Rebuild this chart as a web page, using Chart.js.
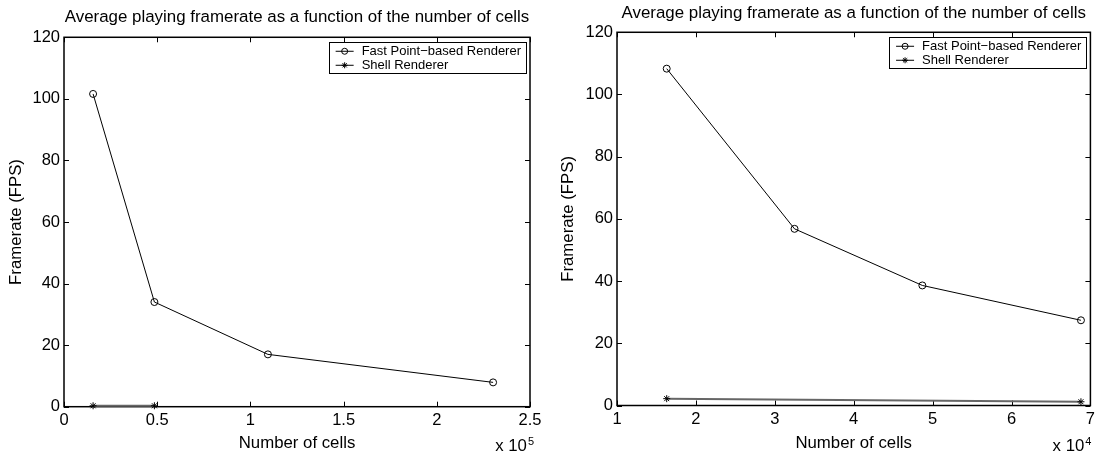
<!DOCTYPE html>
<html>
<head>
<meta charset="utf-8">
<title>Average playing framerate</title>
<script src="https://cdn.jsdelivr.net/npm/chart.js@4/dist/chart.umd.min.js"></script>
<style>
    body { margin: 0; background: #fff; }
    #wrap { position: relative; width: 1099px; height: 457px; }
    .panel { position: absolute; top: 0; height: 457px; }
    #left { left: 0; width: 550px; }
    #right { left: 550px; width: 549px; }
</style>
</head>
<body>
<div id="wrap">
    <div class="panel" id="left"><canvas id="chartLeft"></canvas></div>
    <div class="panel" id="right"><canvas id="chartRight"></canvas></div>
</div>
<script>
const titleText = 'Average playing framerate as a function of the number of cells';
const xTitle = 'Number of cells';
const yTitle = 'Framerate (FPS)';
const seriesNames = ['Fast Point\u2212based Renderer', 'Shell Renderer'];

// left panel, x axis in units of 10^5 cells
const leftFastCells = [15600, 48500, 109400, 230200];
const leftFastFps = [101.6, 34.0, 17.0, 7.9];
const leftShellCells = [15600, 48500];
const leftShellFps = [0.3, 0.3];
const leftXTicks = [0, 0.5, 1, 1.5, 2, 2.5];

// right panel, x axis in units of 10^4 cells
const rightFastCells = [16300, 32500, 48700, 68800];
const rightFastFps = [108.3, 56.8, 38.6, 27.4];
const rightShellCells = [16300, 68800];
const rightShellFps = [2.2, 1.2];
const rightXTicks = [1, 2, 3, 4, 5, 6, 7];

const yTicks = [0, 20, 40, 60, 80, 100, 120];

const family = '"Liberation Sans", Arial, Helvetica, sans-serif';

function drawMarker(ctx, style, x, y, r) {
    ctx.beginPath();
    if (style === 'circle') {
        ctx.arc(x, y, r, 0, Math.PI * 2);
    } else {
        for (let k = 0; k < 4; k++) {
            const ang = k * Math.PI / 4;
            ctx.moveTo(x - r * Math.cos(ang), y - r * Math.sin(ang));
            ctx.lineTo(x + r * Math.cos(ang), y + r * Math.sin(ang));
        }
    }
    ctx.stroke();
}

// axes box with inward tick marks on all four sides
const boxPlugin = {
    id: 'matlabBox',
    beforeDatasetsDraw(chart) {
        const { ctx, chartArea: a, scales } = chart;
        ctx.save();
        ctx.strokeStyle = '#000';
        ctx.lineWidth = 1;
        ctx.beginPath();
        scales.x.ticks.forEach(t => {
            const px = Math.round(scales.x.getPixelForValue(t.value)) + 0.5;
            ctx.moveTo(px, a.bottom); ctx.lineTo(px, a.bottom - 5);
            ctx.moveTo(px, a.top); ctx.lineTo(px, a.top + 5);
        });
        scales.y.ticks.forEach(t => {
            const py = Math.round(scales.y.getPixelForValue(t.value)) + 0.5;
            ctx.moveTo(a.left, py); ctx.lineTo(a.left + 5, py);
            ctx.moveTo(a.right, py); ctx.lineTo(a.right - 5, py);
        });
        ctx.stroke();
        ctx.lineWidth = 1.5;
        ctx.strokeRect(a.left, a.top, a.right - a.left, a.bottom - a.top);
        ctx.restore();
    }
};

// legend box inside the top right corner
const legendPlugin = {
    id: 'boxLegend',
    afterDatasetsDraw(chart) {
        const { ctx, chartArea: a } = chart;
        const sets = chart.data.datasets;
        ctx.save();
        ctx.font = '13px ' + family;
        const textW = Math.max(...sets.map(d => ctx.measureText(d.label).width));
        const w = 33 + textW + 5;
        const h = 31;
        const left = a.right - 4 - w;
        const top = a.top + 5;
        ctx.fillStyle = '#fff';
        ctx.fillRect(left, top, w, h);
        ctx.strokeStyle = '#000';
        ctx.lineWidth = 1;
        ctx.strokeRect(Math.round(left) + 0.5, Math.round(top) + 0.5, Math.round(w), h);
        sets.forEach((d, i) => {
            const y = top + 9 + i * 14;
            ctx.strokeStyle = '#000';
            ctx.lineWidth = 1;
            ctx.beginPath();
            ctx.moveTo(left + 7, y);
            ctx.lineTo(left + 25, y);
            ctx.stroke();
            drawMarker(ctx, d.pointStyle, left + 16, y, 3);
            ctx.fillStyle = '#000';
            ctx.textBaseline = 'middle';
            ctx.textAlign = 'left';
            ctx.fillText(d.label, left + 33, y + 0.5);
        });
        ctx.restore();
    }
};

// "x 10^n" multiplier under the right end of the x axis
const expPlugin = {
    id: 'expLabel',
    afterDraw(chart, args, opts) {
        const { ctx, chartArea: a } = chart;
        ctx.save();
        ctx.fillStyle = '#000';
        ctx.textBaseline = 'alphabetic';
        ctx.textAlign = 'left';
        ctx.font = '16.8px ' + family;
        const base = 'x 10';
        const w1 = ctx.measureText(base).width;
        ctx.font = '11px ' + family;
        const sup = String(opts.exp);
        const w2 = ctx.measureText(sup).width;
        const x0 = a.right + opts.shift - w1 - w2;
        ctx.font = '16.8px ' + family;
        ctx.fillText(base, x0, 451);
        ctx.font = '11px ' + family;
        ctx.fillText(sup, x0 + w1 + 1, 445);
        ctx.restore();
    }
};

function makeDatasets(fastX, fastY, shellX, shellY) {
    return [
        {
            label: seriesNames[0],
            data: fastX.map((x, i) => ({ x: x, y: fastY[i] })),
            borderColor: '#000',
            borderWidth: 1,
            pointStyle: 'circle',
            pointRadius: 3.5,
            pointBorderColor: '#000',
            pointBackgroundColor: 'rgba(0,0,0,0)',
            pointBorderWidth: 1,
            showLine: true,
            clip: false
        },
        {
            label: seriesNames[1],
            data: shellX.map((x, i) => ({ x: x, y: shellY[i] })),
            borderColor: '#666',
            borderWidth: 2,
            pointStyle: 'star',
            pointRadius: 3.5,
            pointBorderColor: '#000',
            pointBackgroundColor: '#000',
            pointBorderWidth: 1,
            showLine: true,
            clip: false
        }
    ];
}

function makeOptions(cfg) {
    const font = { family: family, size: 16.5 };
    const axisFont = { family: family, size: 16.8 };
    return {
        responsive: true,
        maintainAspectRatio: false,
        animation: false,
        layout: { padding: { left: 0, right: cfg.rightPad, top: 0, bottom: 0 } },
        plugins: {
            legend: { display: false },
            tooltip: { enabled: false },
            title: {
                display: true,
                text: titleText,
                color: '#000',
                fullSize: false,
                font: { family: family, size: 16.9, weight: 'normal' },
                padding: cfg.titlePad
            },
            expLabel: { exp: cfg.exp, shift: cfg.expShift }
        },
        scales: {
            x: {
                type: 'linear',
                min: cfg.xTicks[0] * cfg.unit,
                max: cfg.xTicks[cfg.xTicks.length - 1] * cfg.unit,
                grid: { display: false, drawTicks: false },
                border: { display: false },
                afterBuildTicks: s => { s.ticks = cfg.xTicks.map(v => ({ value: v * cfg.unit })); },
                ticks: {
                    color: '#000', font: font, padding: 4, maxRotation: 0, autoSkip: false,
                    callback: v => String(+(v / cfg.unit).toFixed(3))
                },
                title: { display: true, text: xTitle, color: '#000', font: axisFont, padding: { top: 0, bottom: 4 } },
                afterFit: s => { s.height = cfg.xHeight; }
            },
            y: {
                min: yTicks[0],
                max: yTicks[yTicks.length - 1],
                grid: { display: false, drawTicks: false },
                border: { display: false },
                afterBuildTicks: s => { s.ticks = yTicks.map(v => ({ value: v })); },
                ticks: { color: '#000', font: font, padding: 4, autoSkip: false },
                title: { display: true, text: yTitle, color: '#000', font: axisFont, padding: { top: cfg.yTitlePad, bottom: 0 } },
                afterFit: s => { s.width = cfg.yWidth; }
            }
        }
    };
}

window.onload = function() {
    new Chart(document.getElementById('chartLeft').getContext('2d'), {
        type: 'scatter',
        data: { datasets: makeDatasets(leftFastCells, leftFastFps, leftShellCells, leftShellFps) },
        options: makeOptions({
            xTicks: leftXTicks, unit: 1e5, exp: 5, expShift: 3,
            rightPad: 20, yWidth: 64, xHeight: 50.3, yTitlePad: 6,
            titlePad: { top: 7, bottom: 10 }
        }),
        plugins: [boxPlugin, legendPlugin, expPlugin]
    });

    new Chart(document.getElementById('chartRight').getContext('2d'), {
        type: 'scatter',
        data: { datasets: makeDatasets(rightFastCells, rightFastFps, rightShellCells, rightShellFps) },
        options: makeOptions({
            xTicks: rightXTicks, unit: 1e4, exp: 4, expShift: 0,
            rightPad: 8, yWidth: 67, xHeight: 51.5, yTitlePad: 8,
            titlePad: { top: 3, bottom: 9 }
        }),
        plugins: [boxPlugin, legendPlugin, expPlugin]
    });
};
</script>
</body>
</html>
